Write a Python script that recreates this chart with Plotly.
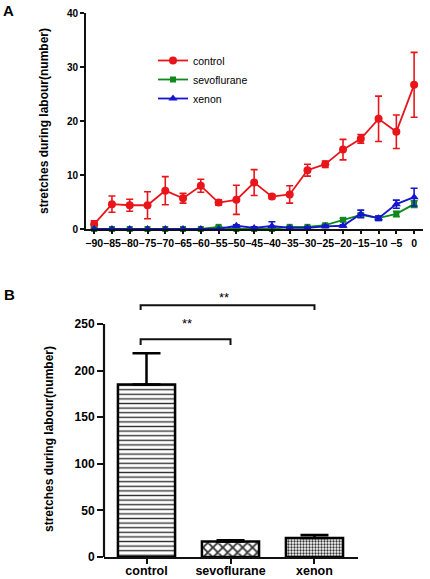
import plotly.graph_objects as go

# ---------------- Panel A data ----------------
time_min = [-90, -85, -80, -75, -70, -65, -60, -55, -50, -45, -40, -35, -30, -25, -20, -15, -10, -5, 0]
control = [0.9, 4.6, 4.4, 4.4, 7.1, 5.7, 8.0, 4.9, 5.4, 8.6, 6.0, 6.4, 10.9, 12.0, 14.7, 16.7, 20.4, 18.0, 26.7]
control_err = [0.6, 1.5, 1.1, 2.5, 2.6, 0.9, 1.2, 0.5, 2.7, 2.4, 0.4, 1.6, 1.1, 0.6, 1.9, 0.8, 4.2, 3.1, 6.0]
sevoflurane = [0, 0, 0, 0, 0, 0, 0, 0.4, 0, 0, 0, 0.4, 0.4, 0.7, 1.7, 2.6, 2.0, 2.8, 4.6]
sevoflurane_err = [0, 0, 0, 0, 0, 0, 0, 0.1, 0, 0, 0, 0.1, 0.1, 0.2, 0.3, 0.3, 0.3, 0.5, 0.6]
xenon = [0, 0, 0, 0, 0, 0, 0, 0, 0.6, 0.2, 0.55, 0.2, 0.2, 0.5, 0.6, 2.8, 2.0, 4.6, 5.9]
xenon_err = [0, 0, 0, 0, 0, 0, 0, 0, 0.2, 0.2, 0.8, 0.2, 0.2, 0.2, 0.2, 0.7, 0.4, 0.75, 1.65]

# ---------------- Panel B data ----------------
groups = ["control", "sevoflurane", "xenon"]
totals = [185, 16.5, 20.5]
totals_err = [33.5, 1.5, 3.0]
yticks_a = [0, 10, 20, 30, 40]
yticks_b = [0, 50, 100, 150, 200, 250]

FONT = "Liberation Sans, Arial, sans-serif"
NARROW = "Liberation Sans Narrow, Arial Narrow, Liberation Sans, Arial, sans-serif"
W, H = 430, 579

fig = go.Figure()

series = [
    ("control", control, control_err, "#e8161b", "circle", 8),
    ("sevoflurane", sevoflurane, sevoflurane_err, "#0f8a1a", "square", 6),
    ("xenon", xenon, xenon_err, "#1515d0", "triangle-up", 8),
]
for name, vals, errs, col, sym, ms in series:
    fig.add_trace(go.Scatter(
        x=time_min, y=vals, name=name, mode="lines+markers",
        line=dict(color=col, width=1.8),
        marker=dict(color=col, symbol=sym, size=ms),
        error_y=dict(type="data", array=errs, color=col, thickness=1.6, width=3.5),
        cliponaxis=False, xaxis="x", yaxis="y",
    ))

fig.add_trace(go.Bar(
    x=groups, y=totals, width=0.68, showlegend=False,
    marker=dict(color="white", line=dict(color="black", width=2.5), pattern=dict(
        shape=["-", "x", "."],
        size=[4.6, 7, 3],
        solidity=[0.3, 0.45, 0.45],
        fgcolor="#333333", bgcolor="white", fillmode="replace")),
    error_y=dict(type="data", symmetric=False, array=totals_err, arrayminus=[0, 0, 0],
                 color="black", thickness=2.5, width=14),
    xaxis="x2", yaxis="y2",
))

# ---- Layout ----
ax_common = dict(showgrid=False, zeroline=False, showline=True, linecolor="#111111",
                 linewidth=2, ticks="outside", tickcolor="#111111", automargin=False)

fig.update_layout(
    width=W, height=H, margin=dict(l=0, r=0, t=0, b=0),
    paper_bgcolor="white", plot_bgcolor="white",
    font=dict(family=FONT, color="black"),
    xaxis=dict(**ax_common, domain=[86 / W, 423 / W], range=[-92.3, 2.5],
               tickvals=time_min, ticklen=3, tickwidth=1.5, tickangle=0,
               tickfont=dict(size=10.5, weight="bold", family=NARROW), anchor="y"),
    yaxis=dict(**ax_common, domain=[1 - 229 / H, 1 - 13 / H], range=[0, 40],
               tickvals=yticks_a, ticklen=4, tickwidth=1.5,
               tickfont=dict(size=10, weight="bold"), anchor="x"),
    xaxis2=dict(**{**ax_common, "linewidth": 2.2}, domain=[104 / W, 358 / W], range=[-0.506, 2.518],
                ticklen=5, tickwidth=2, tickangle=0, ticklabelstandoff=-4,
                tickfont=dict(size=12.5, weight="bold"), anchor="y2"),
    yaxis2=dict(showgrid=False, zeroline=False, showline=False, ticks="outside", automargin=False,
                tickcolor="#111111", domain=[1 - 557 / H, 1 - 300 / H], range=[0, 275.75],
                tickvals=yticks_b, ticklen=6, tickwidth=2,
                tickfont=dict(size=12, weight="bold"), anchor="x2"),
    legend=dict(x=153 / W, y=1 - 46 / H, xanchor="left", yanchor="top",
                bgcolor="rgba(0,0,0,0)", font=dict(size=10.5, family=FONT, weight="normal"),
                itemwidth=30, tracegroupgap=0),
    bargap=0.3,
)

# y-axis line for panel B (only up to 250)
fig.add_shape(type="line", xref="x2 domain", yref="y2", x0=0, x1=0, y0=0, y1=250,
              line=dict(color="#111111", width=2.2))

# significance brackets (panel B)
brackets = [(0, 2, 270, 265), (0, 1, 233.6, 227.5)]
for xa, xb, ytop, ylow in brackets:
    fig.add_shape(type="path", xref="x2", yref="y2",
                  path=f"M {xa - 0.07} {ylow} L {xa - 0.07} {ytop} L {xb} {ytop} L {xb} {ylow}",
                  line=dict(color="#111111", width=2))

fig.add_annotation(x=0.92, y=270, xref="x2", yref="y2", text="**", showarrow=False,
                   yanchor="bottom", yshift=-2, font=dict(size=13, family=FONT))
fig.add_annotation(x=0.48, y=233.6, xref="x2", yref="y2", text="**", showarrow=False,
                   yanchor="bottom", yshift=6, font=dict(size=13, family=FONT))

# axis titles
fig.add_annotation(x=44 / W, y=1 - 121 / H, xref="paper", yref="paper", textangle=-90,
                   xanchor="center", yanchor="middle",
                   text="stretches during labour(number)", showarrow=False,
                   font=dict(size=12, weight="bold", family=FONT))
fig.add_annotation(x=49 / W, y=1 - 439 / H, xref="paper", yref="paper", textangle=-90,
                   xanchor="center", yanchor="middle",
                   text="stretches during labour(number)", showarrow=False,
                   font=dict(size=12, weight="bold", family=FONT))

# panel letters
fig.add_annotation(x=8 / W, y=1 - 10 / H, xref="paper", yref="paper", text="A", showarrow=False,
                   xanchor="center", yanchor="middle",
                   font=dict(size=15, weight="bold", family=FONT))
fig.add_annotation(x=9 / W, y=1 - 294 / H, xref="paper", yref="paper", text="B", showarrow=False,
                   xanchor="center", yanchor="middle",
                   font=dict(size=15, weight="bold", family=FONT))

fig.write_html("out.html", config={"displayModeBar": False},
               post_script="document.body.style.margin='0';document.body.style.padding='0';")
